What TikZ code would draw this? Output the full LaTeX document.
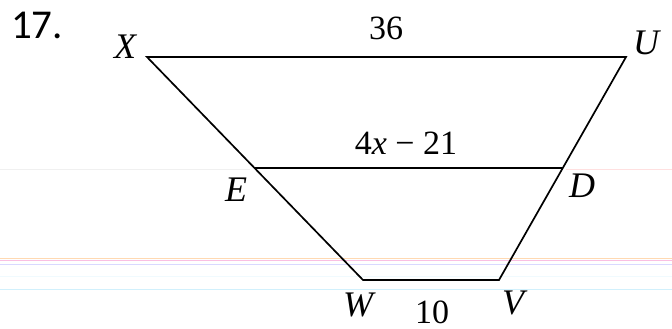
\documentclass[tikz,border=0pt]{standalone}
\usepackage{fontspec}
\setmainfont{Liberation Serif}
\newfontfamily\numfont{Carlito}
\begin{document}
\begin{tikzpicture}[x=1pt,y=-1pt,
  edge/.style={line width=1.7pt, line join=miter},
  vlabel/.style={font=\fontsize{36}{36}\selectfont\itshape, inner sep=0pt},
  nlabel/.style={font=\fontsize{34}{34}\selectfont, inner sep=0pt},
  paper/.style={line width=0.8pt}]
\useasboundingbox (0,0) rectangle (672,329);
\fill[white] (0,0) rectangle (672,329);
% notebook paper lines
\draw[paper, color=black!6] (0,169) -- (250,169);
\draw[paper, color=red!12] (566,169) -- (672,169);
\draw[paper, color=orange!30] (0,258) -- (672,258);
\draw[paper, color=magenta!25] (0,260.5) -- (672,260.5);
\draw[paper, color=blue!15] (0,264) -- (672,264);
\draw[paper, color=cyan!6] (0,276) -- (672,276);
\draw[paper, color=cyan!18] (0,289) -- (672,289);
% vertices
\coordinate (X) at (147,57);
\coordinate (U) at (626,57);
\coordinate (V) at (499,280);
\coordinate (W) at (363,280);
\coordinate (E) at (254.5,168);
\coordinate (D) at (563,168);
\draw[edge] (X) -- (U) -- (V) -- (W) -- cycle;
\draw[edge] (E) -- (D);
% labels
\node[font=\fontsize{41}{41}\selectfont\numfont, inner sep=0pt] (num) at (37,25) {17.};
\node[vlabel] (lX) at (125,47) {X};
\node[vlabel] (lU) at (646,43) {U};
\node[vlabel] (lE) at (236,190) {E};
\node[vlabel] (lD) at (582,186) {D};
\node[vlabel] (lW) at (358,305) {W};
\node[vlabel] (lV) at (513,303) {V};
\node[nlabel] (top) at (386,28) {36};
\node[nlabel] (mid) at (406,143) {4\textit{x} − 21};
\node[nlabel] (bot) at (432,312) {10};
\end{tikzpicture}
\end{document}
